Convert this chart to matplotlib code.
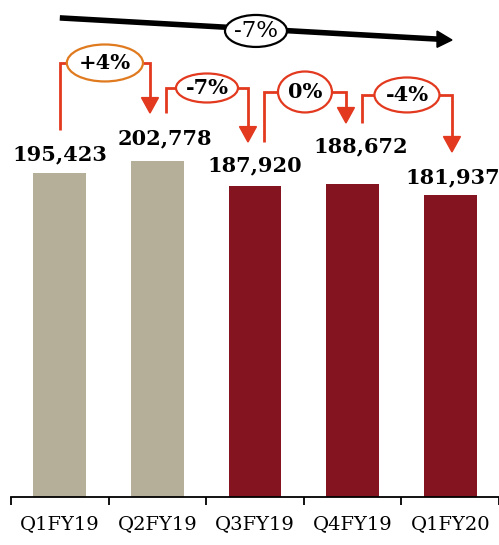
import matplotlib
matplotlib.use("Agg")
import matplotlib.pyplot as plt
from matplotlib.patches import Ellipse, Polygon

# Quarterly values
quarters = ["Q1FY19", "Q2FY19", "Q3FY19", "Q4FY19", "Q1FY20"]
values = [195423, 202778, 187920, 188672, 181937]
bar_colors = ["#B5AE98", "#B5AE98", "#84141F", "#84141F", "#84141F"]

# Quarter-on-quarter changes and overall change
qoq_labels = ["+4%", "-7%", "0%", "-4%"]
overall_label = "-7%"

FONT = "DejaVu Serif"
RED = "#E2391F"

fig = plt.figure(figsize=(4.99, 5.45), dpi=100)
ax = fig.add_axes([11 / 499, 48 / 545, 488 / 499, 497 / 545])
ax.set_xlim(-0.5, 4.5)
ax.set_ylim(0, 299900)

x = list(range(len(values)))
ax.bar(x, values, width=0.54, color=bar_colors, zorder=2)

# value labels: (x shift in categories, vertical offset in points)
label_shift = [(0.0, 6), (0.08, 9), (0.0, 7), (0.085, 20), (0.03, 6)]
for xi, v, (dx, dy) in zip(x, values, label_shift):
    ax.annotate(f"{v:,}", (xi + dx, v), xytext=(0, dy), textcoords="offset points",
                ha="center", va="bottom", fontsize=15, fontweight="bold",
                family=FONT, color="black")

# axis styling
for s in ["left", "right", "top"]:
    ax.spines[s].set_visible(False)
ax.spines["bottom"].set_linewidth(1.3)
ax.set_yticks([])
ax.set_xticks(x)
ax.set_xticklabels(quarters, family=FONT, fontsize=14)
ax.tick_params(axis="x", which="major", length=0, pad=13)
ax.set_xticks([i - 0.5 for i in range(len(values) + 1)], minor=True)
ax.tick_params(axis="x", which="minor", length=6, width=1.3, direction="out")

# quarter-on-quarter brackets:
# (left x, right x, left leg bottom, top, arrow tip, ellipse width, ellipse height)
brackets = [
    (0.00, 0.924, 221400, 261900, 231700, 0.78, 22300),
    (1.088, 1.928, 231700, 246800, 214200, 0.635, 17500),
    (2.092, 2.932, 214200, 244400, 225700, 0.553, 24700),
    (3.096, 4.018, 225700, 242600, 208200, 0.666, 21100),
]
edge_colors = ["#E07A1F", RED, RED, RED]
head_w, head_h = 0.087, 9300
for (xl, xr, yb, yt, ytip, ew, eh), lab, ec in zip(brackets, qoq_labels, edge_colors):
    ax.plot([xl, xl, xr, xr], [yb, yt, yt, ytip + head_h * 0.9], color=RED,
            lw=2.0, solid_joinstyle="miter", solid_capstyle="butt", zorder=3)
    ax.add_patch(Polygon([[xr - head_w, ytip + head_h], [xr + head_w, ytip + head_h],
                          [xr, ytip]], closed=True, color=RED, zorder=3))
    xc = (xl + xr) / 2
    ax.add_patch(Ellipse((xc, yt), ew, eh, facecolor="white", edgecolor=ec,
                         lw=1.6, zorder=4))
    ax.text(xc, yt, lab, ha="center", va="center", fontsize=15,
            fontweight="bold", family=FONT, zorder=5)

# overall trend arrow
x0, y0 = 0.0, 289100
x1, y1 = 4.018, 275750
xh = 3.865
yh = y0 + (y1 - y0) * (xh - x0) / (x1 - x0)
ax.plot([x0, xh + 0.02], [y0, yh], color="black", lw=4.0,
        solid_capstyle="butt", zorder=3)
ax.add_patch(Polygon([[xh, yh + 4900], [xh, yh - 4900], [x1, y1]], closed=True,
                     color="black", zorder=3))
xe = 2.01
ye = y0 + (y1 - y0) * (xe - x0) / (x1 - x0) - 1200
ax.add_patch(Ellipse((xe, ye), 0.635, 19300, facecolor="white", edgecolor="black",
                     lw=1.6, zorder=4))
ax.text(xe, ye, overall_label, ha="center", va="center", fontsize=16.5,
        family=FONT, zorder=5)

fig.savefig("out.png", dpi=100)
